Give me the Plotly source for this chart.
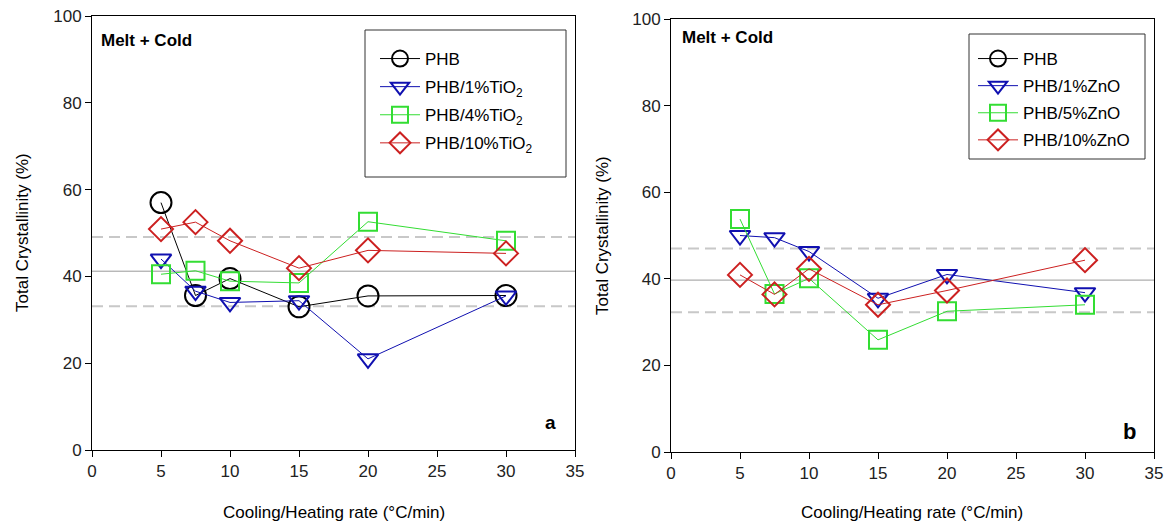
import plotly.graph_objects as go

rates = [5, 7.5, 10, 15, 20, 30]

# Panel a (TiO2)
phb_a = [57.0, 35.6, 39.5, 33.0, 35.5, 35.6]
tio2_1 = [44.0, 36.6, 34.0, 34.4, 21.0, 35.5]
tio2_4 = [40.5, 41.3, 38.9, 38.5, 52.6, 48.2]
tio2_10 = [50.9, 52.5, 48.2, 41.9, 46.0, 45.3]
ref_a = [41.2, 49.1, 33.1]  # mean, upper, lower

# Panel b (ZnO)
zno_1 = [50.0, 49.5, 46.3, 35.5, 41.0, 36.8]
zno_5 = [53.8, 36.5, 40.1, 25.9, 32.5, 34.0]
zno_10 = [40.9, 36.4, 42.3, 34.0, 37.3, 44.3]
ref_b = [39.7, 47.0, 32.3]

names_a = ["PHB", "PHB/1%TiO<sub>2</sub>", "PHB/4%TiO<sub>2</sub>", "PHB/10%TiO<sub>2</sub>"]
names_b = ["PHB", "PHB/1%ZnO", "PHB/5%ZnO", "PHB/10%ZnO"]

BLACK = "#000000"
BLUE = "#1010b0"
GREEN = "#33dd33"
RED = "#cc2020"
styles = [
    ("circle-open", BLACK, 21),
    ("triangle-down-open", BLUE, 18),
    ("square-open", GREEN, 18),
    ("diamond-open", RED, 18.5),
]

fig = go.Figure()

FONT = "Arial, Liberation Sans, sans-serif"
W, H = 1170, 524


def px_x(v):
    return v / W


def px_y(v):
    return (H - v) / H


def add_ref(xa, ya, ref):
    mean, up, lo = ref
    fig.add_trace(go.Scatter(x=[0, 35], y=[mean, mean], mode="lines",
                             line=dict(color="#999999", width=1), showlegend=False,
                             hoverinfo="skip", xaxis=xa, yaxis=ya))
    for v in (up, lo):
        fig.add_trace(go.Scatter(x=[0, 35], y=[v, v], mode="lines",
                                 line=dict(color="#c8c8c8", width=2, dash="11px,6px"),
                                 showlegend=False, hoverinfo="skip", xaxis=xa, yaxis=ya))


add_ref("x", "y", ref_a)
add_ref("x2", "y2", ref_b)

series_a = [phb_a, tio2_1, tio2_4, tio2_10]
for i, ((sym, col, sz), name, ys) in enumerate(zip(styles, names_a, series_a)):
    fig.add_trace(go.Scatter(
        x=rates, y=ys, mode="lines+markers", name=name, legend="legend",
        legendgroup="a%d" % i,
        line=dict(color=col, width=1),
        marker=dict(symbol=sym, size=sz, color=col, line=dict(color=col, width=2)),
        xaxis="x", yaxis="y"))

series_b = [None, zno_1, zno_5, zno_10]
for i, ((sym, col, sz), name, ys) in enumerate(zip(styles, names_b, series_b)):
    if ys is None:
        xs, yv = [None], [None]
    else:
        xs, yv = rates, ys
    fig.add_trace(go.Scatter(
        x=xs, y=yv, mode="lines+markers", name=name, legend="legend2",
        legendgroup="b%d" % i,
        line=dict(color=col, width=1),
        marker=dict(symbol=sym, size=sz, color=col, line=dict(color=col, width=2)),
        xaxis="x2", yaxis="y2"))


def xd(a, b):
    return [a / W, b / W]


def yd(top, bot):
    return [(H - bot) / H, (H - top) / H]


axis_common = dict(
    showgrid=False, zeroline=False, showline=True, linecolor="black", linewidth=1,
    mirror=True, ticks="outside", ticklen=6, tickwidth=1, tickcolor="black",
    automargin=False,
    tickfont=dict(family=FONT, size=17, color="#222222"),
)

fig.update_layout(
    template="none",
    width=W, height=H,
    margin=dict(l=0, r=0, t=0, b=0, pad=0, autoexpand=False),
    paper_bgcolor="white", plot_bgcolor="white",
    font=dict(family=FONT, color="black"),
    xaxis=dict(domain=xd(92, 575), range=[0, 35], tickvals=[0, 5, 10, 15, 20, 25, 30, 35],
               anchor="y", **axis_common),
    yaxis=dict(domain=yd(16, 450), range=[0, 100], tickvals=[0, 20, 40, 60, 80, 100],
               anchor="x", **axis_common),
    xaxis2=dict(domain=xd(671, 1154), range=[0, 35], tickvals=[0, 5, 10, 15, 20, 25, 30, 35],
                anchor="y2", **axis_common),
    yaxis2=dict(domain=yd(19, 452), range=[0, 100], tickvals=[0, 20, 40, 60, 80, 100],
                anchor="x2", **axis_common),
    legend=dict(x=px_x(375), y=px_y(41), xanchor="left", yanchor="top",
                bgcolor="rgba(0,0,0,0)", borderwidth=0,
                font=dict(family=FONT, size=17, color="black"),
                tracegroupgap=3, itemwidth=40),
    legend2=dict(x=px_x(973), y=px_y(41), xanchor="left", yanchor="top",
                 bgcolor="rgba(0,0,0,0)", borderwidth=0,
                 font=dict(family=FONT, size=17, color="black"),
                 tracegroupgap=2, itemwidth=40),
    showlegend=True,
)

# legend frames
for (x0, y0, x1, y1) in [(365, 30, 566, 177), (969, 34, 1145, 159)]:
    fig.add_shape(type="rect", xref="paper", yref="paper",
                  x0=px_x(x0), x1=px_x(x1), y0=px_y(y1), y1=px_y(y0),
                  line=dict(color="#333333", width=1), fillcolor="white", layer="below")

annos = [
    dict(text="<b>Melt + Cold</b>", x=99, y=41, xanchor="left", size=17),
    dict(text="<b>Melt + Cold</b>", x=680, y=38, xanchor="left", size=17),
    dict(text="<b>a</b>", x=550, y=422, xanchor="center", size=19),
    dict(text="<b>b</b>", x=1129, y=431, xanchor="center", size=22),
    dict(text="Cooling/Heating rate (°C/min)", x=334, y=512, xanchor="center", size=17),
    dict(text="Cooling/Heating rate (°C/min)", x=912, y=512, xanchor="center", size=17),
]
for a in annos:
    fig.add_annotation(text=a["text"], x=px_x(a["x"]), y=px_y(a["y"]), xref="paper", yref="paper",
                       xanchor=a["xanchor"], yanchor="middle", showarrow=False,
                       font=dict(family=FONT, size=a["size"], color="black"))

for xc, yc in [(22, 233), (602, 235)]:
    fig.add_annotation(text="Total Crystallinity (%)", x=px_x(xc), y=px_y(yc),
                       xref="paper", yref="paper", textangle=-90, showarrow=False,
                       xanchor="center", yanchor="middle",
                       font=dict(family=FONT, size=17, color="black"))

fig.write_html("out.html")
